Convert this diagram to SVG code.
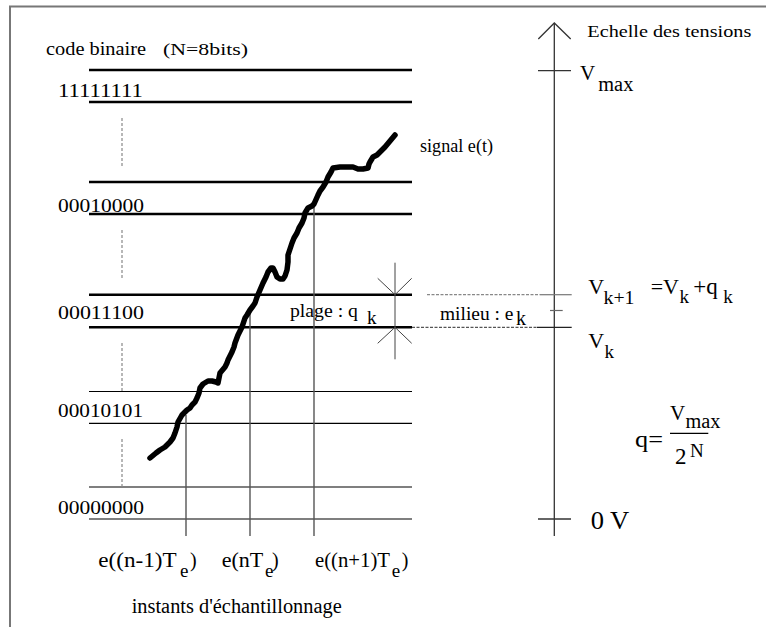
<svg xmlns="http://www.w3.org/2000/svg" width="766" height="627" viewBox="0 0 766 627">
<style>
text{font-family:"Liberation Serif","Times New Roman",serif;fill:#000}
.lvl{stroke:#000;stroke-width:2.6;fill:none}
.thin{stroke:#000;stroke-width:1.2;fill:none}
.dash{stroke:#888;stroke-width:1.2;stroke-dasharray:3 2;fill:none}
.samp{stroke:#555;stroke-width:1.4;fill:none}
.ax{stroke:#333;stroke-width:1.3;fill:none}
.g{stroke:#444;stroke-width:1;fill:none}
</style>
<rect width="766" height="627" fill="#fff"/>
<g id="frame">
<path d="M10,627 V6.5 H766" stroke="#777" stroke-width="2" fill="none"/>
</g>
<g id="levels">
<line class="lvl" x1="89" y1="70" x2="412" y2="70"/>
<line class="lvl" x1="89" y1="102" x2="412" y2="102"/>
<line class="lvl" x1="89" y1="182" x2="412" y2="182"/>
<line class="lvl" x1="89" y1="214" x2="412" y2="214"/>
<line class="lvl" x1="89" y1="294.7" x2="412" y2="294.7"/>
<line class="lvl" x1="89" y1="327.3" x2="412" y2="327.3"/>
<line class="thin" x1="89" y1="391.5" x2="412" y2="391.5"/>
<line class="thin" x1="89" y1="423.3" x2="412" y2="423.3"/>
<line class="thin" x1="89" y1="487" x2="412" y2="487"/>
<line class="thin" x1="89" y1="519" x2="412" y2="519"/>
<line class="dash" x1="122" y1="118" x2="122" y2="167"/>
<line class="dash" x1="122" y1="230" x2="122" y2="279"/>
<line class="dash" x1="122" y1="343" x2="122" y2="391"/>
<line class="dash" x1="122" y1="439" x2="122" y2="487"/>
</g>
<g id="samples">
<line class="samp" x1="186" y1="415" x2="186" y2="536"/>
<line class="samp" x1="250" y1="311" x2="250" y2="536"/>
<line class="samp" x1="314" y1="207" x2="314" y2="536"/>
</g>
<g id="signal">
<path d="M150,458 L156,453 L160,450 L165,447 L170,442 L173,438 L175,433 L177,427 L178,422 L182,415 L187,410 L190,408 L192,405 L195,402 L197,398 L199,393 L200,388 L203,384 L208,381 L212,381 L216,382 L218,383 L219,378 L220,373 L225,367 L227,363 L228,360 L232,352 L234,347 L235,343 L238,335 L240,331 L242,327 L245,318 L247,315 L250,310 L253,306 L255,303 L257,297 L260,290 L263,283 L266,277 L268,272 L271,268 L273,268 L275,272 L277,277 L280,279 L283,279 L285,276 L287,270 L288,262 L288,255 L290,249 L292,243 L294,238 L297,233 L299,228 L302,223 L304,218 L305,213 L308,208 L312,206 L314,204 L318,195 L320,191 L323,187 L326,182 L328,177 L331,172 L333,168 L340,167 L347,167 L353,167 L358,169 L363,169 L368,168 L369,164 L370,162 L373,157 L377,155 L380,152 L383,149 L385,147 L390,141 L395,135" stroke="#000" stroke-width="5.5" fill="none" stroke-linejoin="round" stroke-linecap="round"/>
</g>
<g id="plage-marker">
<line class="g" x1="395" y1="262.7" x2="395" y2="359.3"/>
<path class="g" d="M377.7,278.3 L395,294.7 L411.7,278.3 M377.7,343.3 L395,327.3 L411.7,343.3"/>
</g>
<g id="axis">
<line class="ax" x1="554.3" y1="23" x2="554.3" y2="536"/>
<path class="ax" d="M538.3,39 L554.3,23 L570.7,39"/>
<line class="ax" x1="538" y1="70.7" x2="571" y2="70.7"/>
<line class="ax" x1="538" y1="519" x2="571" y2="519"/>
<line x1="550" y1="310.5" x2="562.7" y2="310.5" stroke="#666" stroke-width="1.2"/>
</g>
<g id="connectors">
<line x1="427" y1="294.7" x2="540" y2="294.7" stroke="#888" stroke-width="1.2" stroke-dasharray="3 1.5"/>
<line x1="540" y1="294.7" x2="571.7" y2="294.7" stroke="#777" stroke-width="1.2"/>
<line x1="412" y1="327.3" x2="537" y2="327.3" stroke="#555" stroke-width="1.2" stroke-dasharray="3 1.5"/>
<line x1="537" y1="327.3" x2="571.7" y2="327.3" stroke="#222" stroke-width="1.2"/>
</g>
<g id="labels-left">
<text x="46" y="55" font-size="19" textLength="100" lengthAdjust="spacingAndGlyphs">code binaire</text>
<text x="163" y="55" font-size="17" textLength="85" lengthAdjust="spacingAndGlyphs">(N=8bits)</text>
<text x="58" y="96.7" font-size="19" textLength="85" lengthAdjust="spacingAndGlyphs">11111111</text>
<text x="58" y="211.5" font-size="19" textLength="86" lengthAdjust="spacingAndGlyphs">00010000</text>
<text x="58" y="319" font-size="19" textLength="86" lengthAdjust="spacingAndGlyphs">00011100</text>
<text x="58" y="416.5" font-size="19" textLength="85" lengthAdjust="spacingAndGlyphs">00010101</text>
<text x="58" y="514" font-size="19" textLength="86" lengthAdjust="spacingAndGlyphs">00000000</text>
<text x="420" y="151.5" font-size="18" textLength="73" lengthAdjust="spacingAndGlyphs">signal e(t)</text>
<text x="290" y="316.5" font-size="19" textLength="68" lengthAdjust="spacingAndGlyphs">plage : q</text>
<text x="367" y="324" font-size="19">k</text>
<text x="440" y="320" font-size="19" textLength="73.3" lengthAdjust="spacingAndGlyphs">milieu : e</text>
<text x="516" y="325" font-size="20">k</text>
</g>
<g id="labels-bottom">
<text x="98.3" y="566.7" font-size="20" textLength="78.4" lengthAdjust="spacingAndGlyphs">e((n-1)T</text>
<text x="180" y="576.7" font-size="19">e</text>
<text x="190" y="566.7" font-size="20">)</text>
<text x="221.7" y="566.7" font-size="20" textLength="41.6" lengthAdjust="spacingAndGlyphs">e(nT</text>
<text x="265" y="576.7" font-size="19">e</text>
<text x="272" y="566.7" font-size="20">)</text>
<text x="315" y="566.7" font-size="20" textLength="75" lengthAdjust="spacingAndGlyphs">e((n+1)T</text>
<text x="391.7" y="576.7" font-size="19">e</text>
<text x="401.7" y="566.7" font-size="20">)</text>
<text x="131.7" y="613.3" font-size="20" textLength="210" lengthAdjust="spacingAndGlyphs">instants d'échantillonnage</text>
</g>
<g id="labels-right">
<text x="587.3" y="37" font-size="17" textLength="164" lengthAdjust="spacingAndGlyphs">Echelle des tensions</text>
<text x="580" y="80" font-size="21">V</text>
<text x="598.3" y="91" font-size="20" textLength="35" lengthAdjust="spacingAndGlyphs">max</text>
<text x="588.3" y="294" font-size="22">V</text>
<text x="603.5" y="304" font-size="19" textLength="31" lengthAdjust="spacingAndGlyphs">k+1</text>
<text x="650.7" y="294" font-size="22">=V</text>
<text x="679.5" y="303" font-size="19">k</text>
<text x="693.3" y="294" font-size="23">+q</text>
<text x="723.3" y="303" font-size="19">k</text>
<text x="588.3" y="348" font-size="22">V</text>
<text x="604.5" y="358.3" font-size="19">k</text>
<text x="635" y="446.7" font-size="24" textLength="28" lengthAdjust="spacingAndGlyphs">q=</text>
<text x="670" y="420" font-size="21">V</text>
<text x="685.5" y="428.3" font-size="20" textLength="35" lengthAdjust="spacingAndGlyphs">max</text>
<line x1="670" y1="433.3" x2="708.3" y2="433.3" stroke="#000" stroke-width="1.3"/>
<text x="675" y="464" font-size="23">2</text>
<text x="690" y="457.3" font-size="19">N</text>
<text x="590.7" y="529" font-size="25" textLength="38.6" lengthAdjust="spacingAndGlyphs">0 V</text>
</g>
</svg>
